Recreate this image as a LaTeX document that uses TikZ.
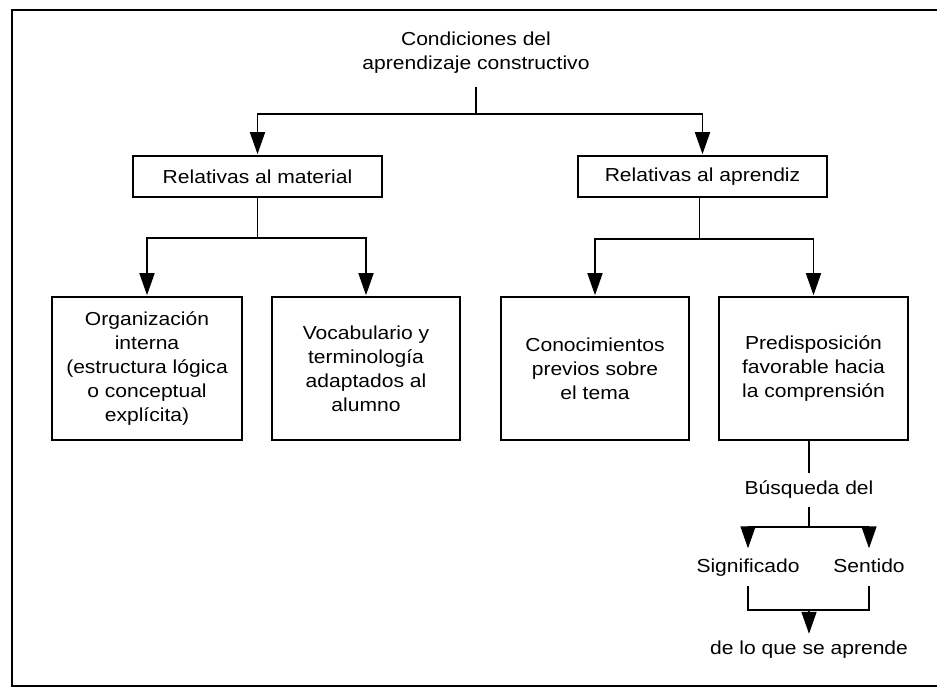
\documentclass[tikz,border=0pt]{standalone}
\usepackage{fontspec}
\setmainfont{Liberation Sans}[FakeStretch=1.12]
\usetikzlibrary{arrows.meta}
\begin{document}
\begin{tikzpicture}[x=1pt,y=-1pt,
  every node/.style={font=\fontsize{18.8}{24}\selectfont, align=center},
  box/.style={draw, line width=1.6pt, inner sep=0pt},
  ln/.style={line width=1.6pt},
  arr/.style={line width=1.6pt, -{Triangle[length=22pt,width=15pt]}, shorten >=1pt},
  lbl/.style={text height=13pt, text depth=4pt, inner xsep=0pt}
]
\useasboundingbox (0,0) rectangle (937,688);
% frame
\draw[ln] (937,10) -- (12,10) -- (12,686) -- (937,686);

% title
\node[inner xsep=0pt, inner ysep=13pt] (title) at (476,53) {Condiciones del\\aprendizaje constructivo};

% level 1
\node[box, minimum width=249pt, minimum height=41pt] (mat) at (257.5,176.5) {Relativas al material};
\node[box, minimum width=249pt, minimum height=41pt] (apr) at (702.5,176.5) {Relativas al aprendiz};

% level 2
\node[box, minimum width=190pt, minimum height=143pt] (org) at (147,368.5)
  {Organización\\interna\\(estructura lógica\\o conceptual\\explícita)};
\node[box, minimum width=188pt, minimum height=143pt] (voc) at (366,368.5)
  {Vocabulario y\\terminología\\adaptados al\\alumno};
\node[box, minimum width=188pt, minimum height=143pt] (con) at (595,368.5)
  {Conocimientos\\previos sobre\\el tema};
\node[box, minimum width=189pt, minimum height=143pt] (pre) at (813.5,368.5)
  {Predisposición\\favorable hacia\\la comprensión};

% lower branch
\node[lbl, inner ysep=8.5pt] (busq) at (809,490) {Búsqueda del};
\node[lbl, inner ysep=9.5pt] (sig) at (748,567.5) {Significado};
\node[lbl, inner ysep=9.5pt] (sen) at (869,567.5) {Sentido};
\node[lbl, inner ysep=6.5pt] (dlq) at (809,650) {de lo que se aprende};

% connectors
\draw[ln] (title.south) -- ++(0,27) coordinate (j1);
\draw[arr] (j1) -| (mat.north);
\draw[arr] (j1) -| (apr.north);

\draw[ln] (mat.south) -- ++(0,40) coordinate (j2);
\draw[arr] (j2) -| (org.north);
\draw[arr] (j2) -| (voc.north);

\draw[ln] ([xshift=-3pt]apr.south) -- ++(0,41) coordinate (j3);
\draw[arr] (j3) -| (con.north);
\draw[arr] (j3) -| (pre.north);

\draw[ln] (busq.north |- pre.south) -- (busq.north);
\draw[ln] (busq.south) -- ++(0,20) coordinate (j4);
\draw[arr] (j4) -| (sig.north);
\draw[arr] (j4) -| (sen.north);

\draw[ln] (sig.south) -- ++(0,24) coordinate (j5) -| (sen.south);
\draw[arr] (j5 -| dlq.north) -- (dlq.north);
\end{tikzpicture}
\end{document}
